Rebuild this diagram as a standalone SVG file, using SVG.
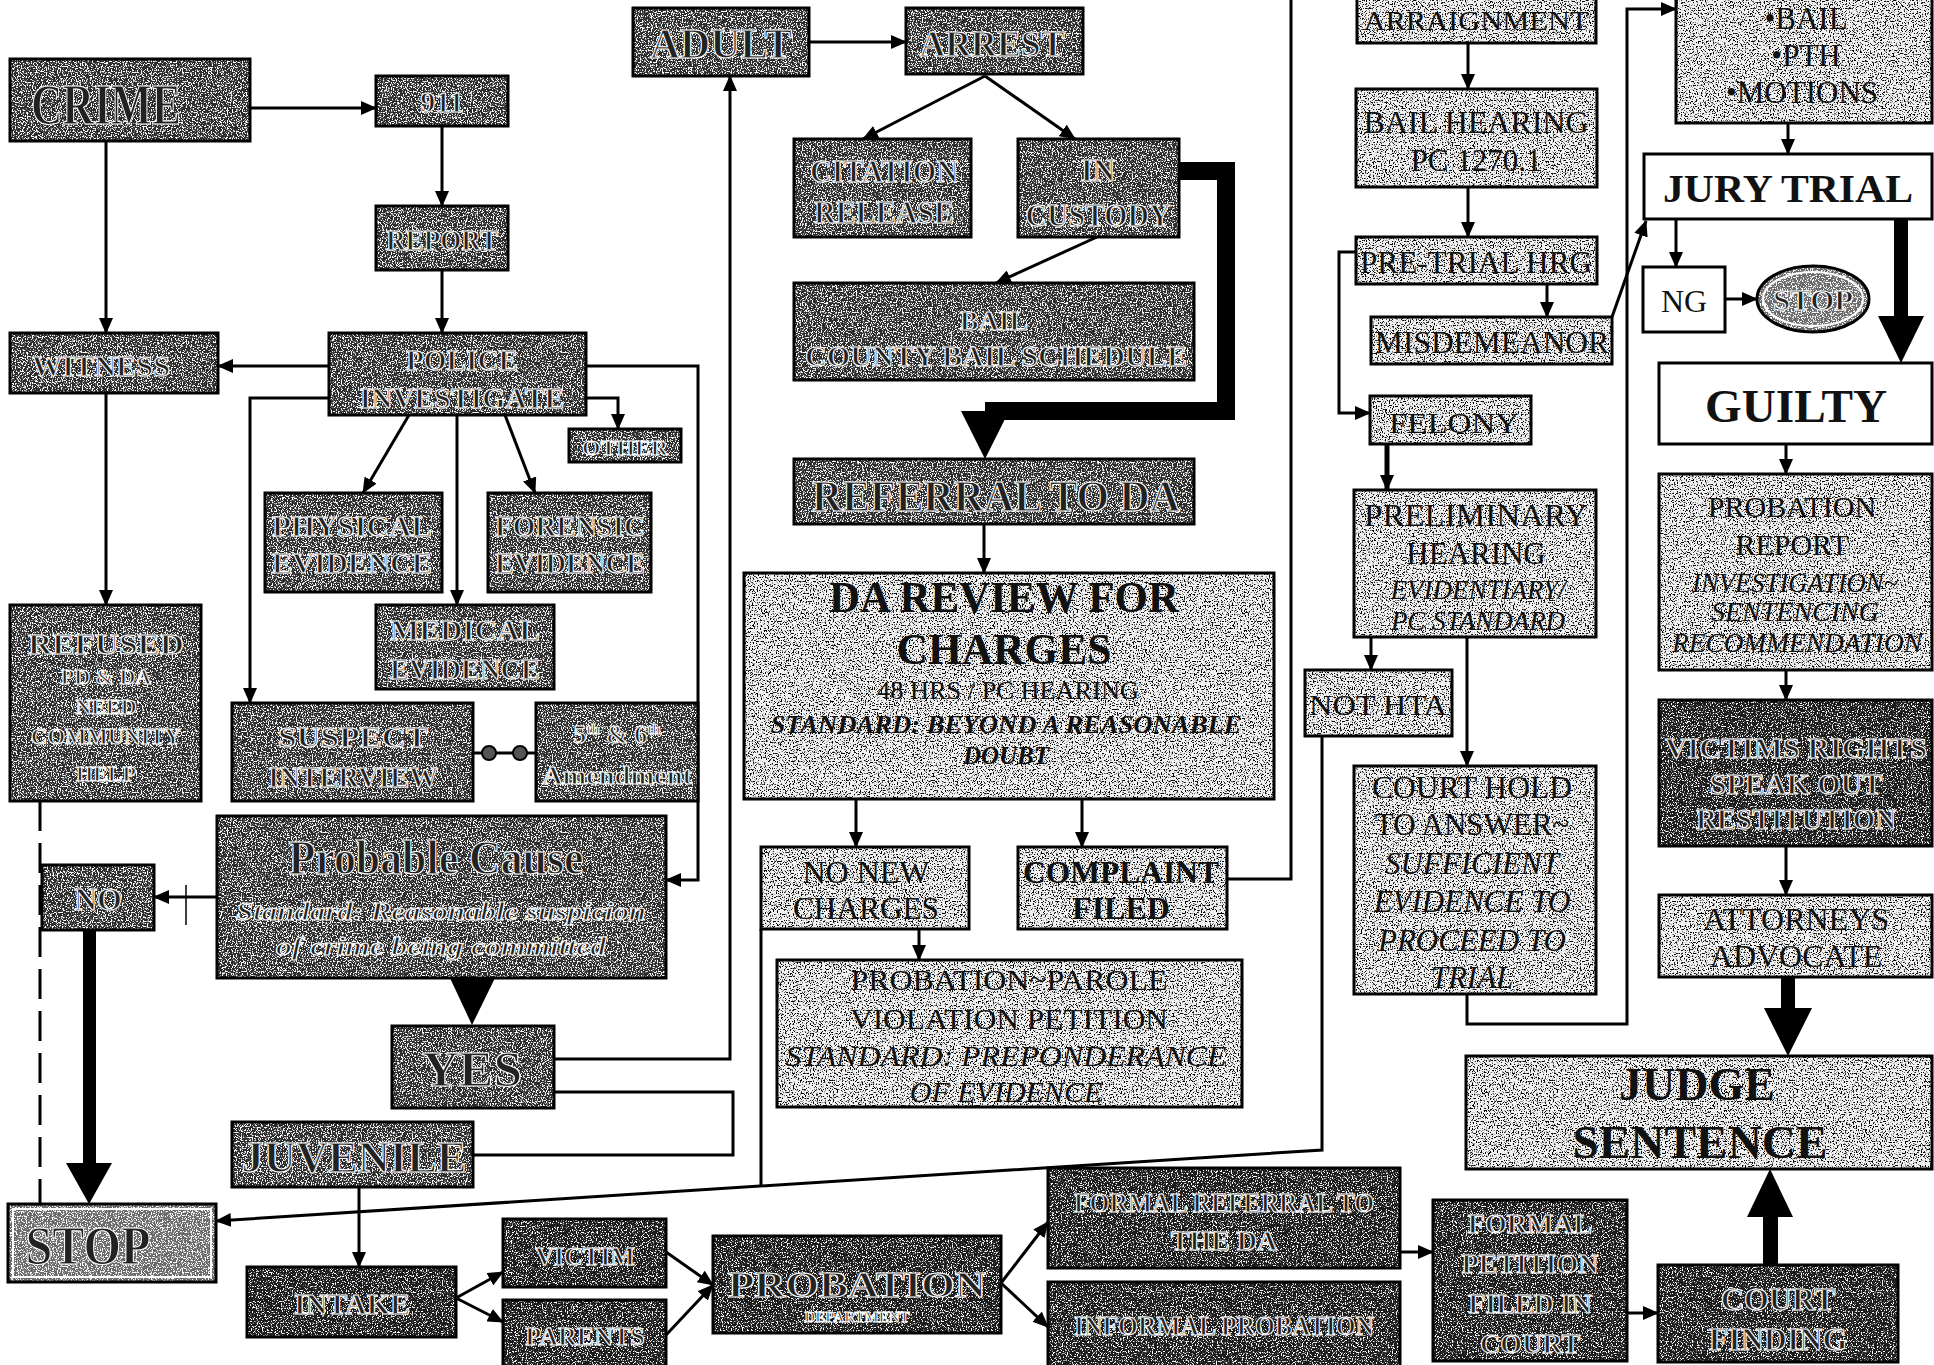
<svg xmlns="http://www.w3.org/2000/svg" width="1934" height="1365" viewBox="0 0 1934 1365">
<defs>
<filter id="nW" x="0" y="0" width="1" height="1" color-interpolation-filters="sRGB">
<feTurbulence type="fractalNoise" baseFrequency="0.8" numOctaves="2" seed="3" stitchTiles="stitch"/>
<feColorMatrix type="matrix" values="0 0 0 0 1  0 0 0 0 1  0 0 0 0 1  9 0 0 0 -4.6"/>
</filter>
<filter id="nW2" x="0" y="0" width="1" height="1" color-interpolation-filters="sRGB">
<feTurbulence type="fractalNoise" baseFrequency="0.8" numOctaves="2" seed="9" stitchTiles="stitch"/>
<feColorMatrix type="matrix" values="0 0 0 0 1  0 0 0 0 1  0 0 0 0 1  9 0 0 0 -4.9"/>
</filter>
<filter id="nK" x="0" y="0" width="1" height="1" color-interpolation-filters="sRGB">
<feTurbulence type="fractalNoise" baseFrequency="0.75" numOctaves="2" seed="5" stitchTiles="stitch"/>
<feColorMatrix type="matrix" values="0 0 0 0 0  0 0 0 0 0  0 0 0 0 0  8 0 0 0 -4.3"/>
</filter>
<pattern id="pDark" width="240" height="240" patternUnits="userSpaceOnUse">
<rect width="240" height="240" fill="#2c2c2c"/>
<rect width="240" height="240" fill="#fff" filter="url(#nW)"/>
</pattern>
<pattern id="pDarker" width="240" height="240" patternUnits="userSpaceOnUse">
<rect width="240" height="240" fill="#1c1c1c"/>
<rect width="240" height="240" fill="#fff" filter="url(#nW2)"/>
</pattern>
<pattern id="pMid" width="240" height="240" patternUnits="userSpaceOnUse">
<rect width="240" height="240" fill="#6a6a6a"/>
<rect width="240" height="240" fill="#fff" filter="url(#nW)"/>
</pattern>
<pattern id="pLight" width="240" height="240" patternUnits="userSpaceOnUse">
<rect width="240" height="240" fill="#f2f2f2"/>
<rect width="240" height="240" fill="#000" filter="url(#nK)"/>
</pattern>
<marker id="ah" markerUnits="userSpaceOnUse" markerWidth="16" markerHeight="14" refX="15" refY="7" orient="auto">
<path d="M0,0 L16,7 L0,14 z" fill="#000"/>
</marker>
<style>
.bx{stroke:#000;stroke-width:3}
.dk{fill:url(#pDark)}
.dk2{fill:url(#pDarker)}
.md{fill:url(#pMid)}
.lt{fill:url(#pLight)}
.wh{fill:#fff}
.t{font-family:"Liberation Serif","Times New Roman",serif;text-anchor:middle}
.d{fill:#222;stroke:#fff;stroke-width:1.1px;font-weight:bold}
.k{fill:#111}
.b{font-weight:bold}
.i{font-style:italic}
.c{fill:none;stroke:#000;stroke-width:3}
.a{marker-end:url(#ah)}
.th{fill:#000}
</style>
</defs>
<rect width="1934" height="1365" fill="#fff"/>

<g id="connectors">
<path class="c a" d="M250,108 H376"/>
<path class="c a" d="M442,126 V206"/>
<path class="c a" d="M442,270 V333"/>
<path class="c a" d="M106,141 V333"/>
<path class="c a" d="M329,366 H218"/>
<path class="c a" d="M106,393 V605"/>
<path class="c a" d="M329,398 H250 V703"/>
<path class="c a" d="M586,398 H618 V429"/>
<path class="c a" d="M586,366 H698 V880 H666"/>
<path class="c a" d="M409,415 L363,493"/>
<path class="c a" d="M457,415 V605"/>
<path class="c a" d="M505,415 L535,493"/>
<path class="c" d="M473,753 H536"/>
<circle cx="489" cy="753" r="7" fill="#555" stroke="#000" stroke-width="2"/>
<circle cx="520" cy="753" r="7" fill="#555" stroke="#000" stroke-width="2"/>
<path class="c a" d="M217,897 H154"/>
<path class="c" d="M186,885 V925" style="stroke-width:1.5"/>
<path class="c" d="M40,801 V1204" stroke-dasharray="30 12"/>
<rect class="th" x="83" y="930" width="13" height="235"/>
<polygon class="th" points="66,1163 112,1163 89,1204"/>
<polygon class="th" points="450,978 495,978 472,1025"/>
<path class="c a" d="M554,1059 H730 V76"/>
<path class="c" d="M554,1092 H733 V1155 H473"/>
<path class="c a" d="M359,1187 V1267"/>
<path class="c a" d="M1322,736 V1150 L216,1221"/>
<path class="c" d="M761,929 V1186"/>
<path class="c a" d="M809,42 H906"/>
<path class="c a" d="M985,76 L863,139"/>
<path class="c a" d="M985,76 L1075,139"/>
<path class="c a" d="M1097,237 L996,283"/>
<path class="c" d="M1179,171 H1226 V411 H985" style="stroke-width:18"/>
<polygon class="th" points="961,411 1009,411 985,459"/>
<path class="c a" d="M984,524 V573"/>
<path class="c a" d="M856,799 V847"/>
<path class="c a" d="M1082,799 V847"/>
<path class="c a" d="M919,929 V960"/>
<path class="c" d="M1227,879 H1291 V-5"/>
<path class="c a" d="M1468,43 V89"/>
<path class="c a" d="M1468,187 V237"/>
<path class="c a" d="M1547,284 V317"/>
<path class="c a" d="M1356,252 H1339 V413 H1370"/>
<path class="c a" d="M1612,317 L1646,221"/>
<path class="c a" d="M1387,444 V490" style="stroke-width:5"/>
<path class="c a" d="M1371,637 V670"/>
<path class="c a" d="M1467,637 V766"/>
<path class="c a" d="M1467,994 V1024 H1627 V9 H1676"/>
<path class="c a" d="M1788,123 V154"/>
<path class="c a" d="M1676,219 V267"/>
<path class="c a" d="M1725,299 H1757"/>
<rect class="th" x="1894" y="219" width="14" height="99"/>
<polygon class="th" points="1878,316 1924,316 1901,363"/>
<path class="c a" d="M1786,444 V474"/>
<path class="c a" d="M1786,670 V700"/>
<path class="c a" d="M1786,846 V895"/>
<rect class="th" x="1781" y="977" width="14" height="33"/>
<polygon class="th" points="1764,1008 1812,1008 1788,1056"/>
<rect class="th" x="1763" y="1213" width="15" height="52"/>
<polygon class="th" points="1747,1217 1793,1217 1770,1169"/>
<path class="c a" d="M456,1298 L503,1272"/>
<path class="c a" d="M456,1298 L503,1322"/>
<path class="c a" d="M666,1252 L713,1285"/>
<path class="c a" d="M666,1335 L713,1285"/>
<path class="c a" d="M1001,1283 L1048,1222"/>
<path class="c a" d="M1001,1283 L1048,1327"/>
<path class="c a" d="M1400,1252 H1433"/>
<path class="c a" d="M1627,1313 H1658"/>
</g>

<g id="crime"><rect class="bx dk" x="10" y="59" width="240" height="82"/>
<text class="t d" x="106" y="124" font-size="56" textLength="150" lengthAdjust="spacingAndGlyphs">CRIME</text></g>
<g id="n911"><rect class="bx dk" x="376" y="76" width="132" height="50"/>
<text class="t d" x="442" y="112" font-size="30">911</text></g>
<g id="report"><rect class="bx dk" x="376" y="206" width="132" height="64"/>
<text class="t d" x="442" y="250" font-size="30" textLength="112" lengthAdjust="spacingAndGlyphs">REPORT</text></g>
<g id="witness"><rect class="bx dk" x="10" y="333" width="208" height="60"/>
<text class="t d" x="101" y="376" font-size="30" textLength="138" lengthAdjust="spacingAndGlyphs">WITNESS</text></g>
<g id="police"><rect class="bx dk" x="329" y="333" width="257" height="82"/>
<text class="t d" x="462" y="370" font-size="30" textLength="112" lengthAdjust="spacingAndGlyphs">POLICE</text>
<text class="t d" x="462" y="408" font-size="30" textLength="205" lengthAdjust="spacingAndGlyphs">INVESTIGATE</text></g>
<g id="other"><rect class="bx dk" x="569" y="429" width="112" height="33"/>
<text class="t d" x="625" y="455" font-size="22" textLength="86" lengthAdjust="spacingAndGlyphs">OTHER</text></g>
<g id="physical"><rect class="bx dk" x="265" y="493" width="177" height="99"/>
<text class="t d" x="352" y="536" font-size="30" textLength="160" lengthAdjust="spacingAndGlyphs">PHYSICAL</text>
<text class="t d" x="352" y="573" font-size="30" textLength="160" lengthAdjust="spacingAndGlyphs">EVIDENCE</text></g>
<g id="forensic"><rect class="bx dk" x="488" y="493" width="163" height="99"/>
<text class="t d" x="570" y="536" font-size="30" textLength="150" lengthAdjust="spacingAndGlyphs">FORENSIC</text>
<text class="t d" x="570" y="573" font-size="30" textLength="150" lengthAdjust="spacingAndGlyphs">EVIDENCE</text></g>
<g id="medical"><rect class="bx dk" x="376" y="605" width="178" height="84"/>
<text class="t d" x="465" y="640" font-size="30" textLength="150" lengthAdjust="spacingAndGlyphs">MEDICAL</text>
<text class="t d" x="465" y="679" font-size="30" textLength="150" lengthAdjust="spacingAndGlyphs">EVIDENCE</text></g>
<g id="refused"><rect class="bx dk" x="10" y="605" width="191" height="196"/>
<text class="t d" x="106" y="654" font-size="30" textLength="156" lengthAdjust="spacingAndGlyphs">REFUSED</text>
<text class="t d" x="106" y="684" font-size="22">PD &amp; DA</text>
<text class="t d" x="106" y="714" font-size="22">NEED</text>
<text class="t d" x="106" y="744" font-size="24" textLength="150" lengthAdjust="spacingAndGlyphs">COMMUNITY</text>
<text class="t d" x="106" y="781" font-size="22">HELP</text></g>
<g id="suspect"><rect class="bx dk" x="232" y="703" width="241" height="98"/>
<text class="t d" x="353" y="747" font-size="30" textLength="150" lengthAdjust="spacingAndGlyphs">SUSPECT</text>
<text class="t d" x="353" y="787" font-size="30" textLength="170" lengthAdjust="spacingAndGlyphs">INTERVIEW</text></g>
<g id="amend"><rect class="bx dk" x="536" y="703" width="162" height="98"/>
<text class="t d" x="617" y="743" font-size="26">5<tspan font-size="15" dy="-9">th</tspan><tspan dy="9"> &amp; 6</tspan><tspan font-size="15" dy="-9">th</tspan></text>
<text class="t d" x="617" y="784" font-size="26" textLength="150" lengthAdjust="spacingAndGlyphs">Amendment</text></g>
<g id="probable"><rect class="bx dk" x="217" y="816" width="449" height="162"/>
<text class="t d" x="436" y="874" font-size="48" textLength="295" lengthAdjust="spacingAndGlyphs">Probable Cause</text>
<text class="t d i" x="441" y="920" font-size="26" textLength="410" lengthAdjust="spacingAndGlyphs">Standard: Reasonable suspicion</text>
<text class="t d i" x="441" y="955" font-size="26" textLength="330" lengthAdjust="spacingAndGlyphs">of crime being committed</text></g>
<g id="no"><rect class="bx dk" x="42" y="865" width="112" height="65"/>
<text class="t d" x="98" y="910" font-size="32">NO</text></g>
<g id="yes"><rect class="bx dk" x="392" y="1026" width="162" height="82"/>
<text class="t d" x="472" y="1086" font-size="50" textLength="100" lengthAdjust="spacingAndGlyphs">YES</text></g>
<g id="juvenile"><rect class="bx dk" x="232" y="1122" width="241" height="65"/>
<text class="t d" x="354" y="1172" font-size="44" textLength="225" lengthAdjust="spacingAndGlyphs">JUVENILE</text></g>
<g id="stop1"><rect class="bx md" x="8" y="1204" width="208" height="78"/>
<rect x="13" y="1209" width="198" height="68" fill="none" stroke="#fff" stroke-width="2"/>
<text class="t d" x="88" y="1264" font-size="54" textLength="125" lengthAdjust="spacingAndGlyphs">STOP</text></g>

<g id="adult"><rect class="bx dk" x="633" y="8" width="176" height="68"/>
<text class="t d" x="721" y="58" font-size="42" textLength="142" lengthAdjust="spacingAndGlyphs">ADULT</text></g>
<g id="arrest"><rect class="bx dk" x="906" y="8" width="177" height="66"/>
<text class="t d" x="992" y="56" font-size="36" textLength="145" lengthAdjust="spacingAndGlyphs">ARREST</text></g>
<g id="citation"><rect class="bx dk" x="794" y="139" width="177" height="98"/>
<text class="t d" x="884" y="182" font-size="31" textLength="148" lengthAdjust="spacingAndGlyphs">CITATION</text>
<text class="t d" x="884" y="223" font-size="31" textLength="140" lengthAdjust="spacingAndGlyphs">RELEASE</text></g>
<g id="custody"><rect class="bx dk" x="1018" y="139" width="161" height="98"/>
<text class="t d" x="1098" y="181" font-size="31">IN</text>
<text class="t d" x="1098" y="226" font-size="31" textLength="145" lengthAdjust="spacingAndGlyphs">CUSTODY</text></g>
<g id="bail"><rect class="bx dk" x="794" y="283" width="400" height="97"/>
<text class="t d" x="994" y="330" font-size="28">BAIL</text>
<text class="t d" x="996" y="366" font-size="30" textLength="382" lengthAdjust="spacingAndGlyphs">COUNTY BAIL SCHEDULE</text></g>
<g id="referral"><rect class="bx dk" x="794" y="459" width="400" height="65"/>
<text class="t d" x="996" y="511" font-size="44" textLength="368" lengthAdjust="spacingAndGlyphs">REFERRAL TO DA</text></g>
<g id="dareview"><rect class="bx lt" x="744" y="573" width="530" height="226"/>
<text class="t k b" x="1004" y="612" font-size="44" textLength="350" lengthAdjust="spacingAndGlyphs">DA REVIEW FOR</text>
<text class="t k b" x="1004" y="664" font-size="44" textLength="215" lengthAdjust="spacingAndGlyphs">CHARGES</text>
<text class="t k" x="1008" y="699" font-size="25" textLength="262" lengthAdjust="spacingAndGlyphs">48 HRS / PC HEARING</text>
<text class="t k b i" x="1006" y="733" font-size="25" textLength="471" lengthAdjust="spacingAndGlyphs">STANDARD: BEYOND A REASONABLE</text>
<text class="t k b i" x="1006" y="764" font-size="25">DOUBT</text></g>
<g id="nonew"><rect class="bx lt" x="761" y="847" width="208" height="82"/>
<text class="t k" x="866" y="883" font-size="32">NO NEW</text>
<text class="t k" x="866" y="919" font-size="32" textLength="146" lengthAdjust="spacingAndGlyphs">CHARGES</text></g>
<g id="complaint"><rect class="bx lt" x="1018" y="847" width="209" height="82"/>
<text class="t k b" x="1121" y="883" font-size="32" textLength="196" lengthAdjust="spacingAndGlyphs">COMPLAINT</text>
<text class="t k b" x="1121" y="919" font-size="32">FILED</text></g>
<g id="violation"><rect class="bx lt" x="777" y="960" width="465" height="147"/>
<text class="t k" x="1009" y="990" font-size="30" textLength="317" lengthAdjust="spacingAndGlyphs">PROBATION~PAROLE</text>
<text class="t k" x="1009" y="1029" font-size="30" textLength="318" lengthAdjust="spacingAndGlyphs">VIOLATION PETITION</text>
<text class="t k i" x="1006" y="1066" font-size="30" textLength="441" lengthAdjust="spacingAndGlyphs">STANDARD: PREPONDERANCE</text>
<text class="t k i" x="1006" y="1102" font-size="30">OF EVIDENCE</text></g>

<g id="arraignment"><rect class="bx lt" x="1357" y="-10" width="239" height="53"/>
<text class="t k" x="1476" y="30" font-size="28" textLength="225" lengthAdjust="spacingAndGlyphs">ARRAIGNMENT</text></g>
<g id="bailhearing"><rect class="bx lt" x="1356" y="89" width="241" height="98"/>
<text class="t k" x="1476" y="133" font-size="31" textLength="225" lengthAdjust="spacingAndGlyphs">BAIL HEARING</text>
<text class="t k" x="1476" y="171" font-size="31">PC 1270.1</text></g>
<g id="pretrial"><rect class="bx lt" x="1356" y="237" width="241" height="47"/>
<text class="t k" x="1476" y="273" font-size="31" textLength="232" lengthAdjust="spacingAndGlyphs">PRE-TRIAL HRG</text></g>
<g id="misdemeanor"><rect class="bx lt" x="1371" y="317" width="241" height="47"/>
<text class="t k" x="1492" y="353" font-size="31" textLength="234" lengthAdjust="spacingAndGlyphs">MISDEMEANOR</text></g>
<g id="felony"><rect class="bx lt" x="1370" y="396" width="161" height="48"/>
<text class="t k" x="1454" y="433" font-size="30" textLength="130" lengthAdjust="spacingAndGlyphs">FELONY</text></g>
<g id="prelim"><rect class="bx lt" x="1354" y="490" width="242" height="147"/>
<text class="t k" x="1476" y="526" font-size="31" textLength="224" lengthAdjust="spacingAndGlyphs">PRELIMINARY</text>
<text class="t k" x="1476" y="564" font-size="31">HEARING</text>
<text class="t k i" x="1478" y="599" font-size="27">EVIDENTIARY/</text>
<text class="t k i" x="1478" y="630" font-size="27">PC STANDARD</text></g>
<g id="nothta"><rect class="bx lt" x="1305" y="670" width="147" height="66"/>
<text class="t k" x="1378" y="715" font-size="30" textLength="138" lengthAdjust="spacingAndGlyphs">NOT HTA</text></g>
<g id="courthold"><rect class="bx lt" x="1354" y="766" width="242" height="228"/>
<text class="t k" x="1472" y="798" font-size="31" textLength="200" lengthAdjust="spacingAndGlyphs">COURT HOLD</text>
<text class="t k" x="1472" y="835" font-size="31">TO ANSWER~</text>
<text class="t k i" x="1472" y="874" font-size="31">SUFFICIENT</text>
<text class="t k i" x="1472" y="912" font-size="31">EVIDENCE TO</text>
<text class="t k i" x="1472" y="951" font-size="31">PROCEED TO</text>
<text class="t k i" x="1472" y="988" font-size="31">TRIAL</text></g>
<g id="motions"><rect class="bx lt" x="1676" y="-10" width="256" height="133"/>
<text class="t k" x="1806" y="29" font-size="31">•BAIL</text>
<text class="t k" x="1806" y="66" font-size="31">•PTH</text>
<text class="t k" x="1802" y="103" font-size="31">•MOTIONS</text></g>
<g id="jury"><rect class="bx wh" x="1644" y="154" width="288" height="65"/>
<text class="t k b" x="1788" y="202" font-size="41" textLength="250" lengthAdjust="spacingAndGlyphs">JURY TRIAL</text></g>
<g id="ng"><rect class="bx wh" x="1643" y="267" width="82" height="65"/>
<text class="t k" x="1684" y="312" font-size="32">NG</text></g>
<g id="stop2"><ellipse class="bx md" cx="1813" cy="299" rx="56" ry="33"/>
<ellipse cx="1813" cy="299" rx="50" ry="27" fill="none" stroke="#fff" stroke-width="2"/>
<text class="t d" x="1813" y="310" font-size="30" textLength="80" lengthAdjust="spacingAndGlyphs">STOP</text></g>
<g id="guilty"><rect class="bx wh" x="1659" y="363" width="273" height="81"/>
<text class="t k b" x="1796" y="422" font-size="46" textLength="182" lengthAdjust="spacingAndGlyphs">GUILTY</text></g>
<g id="probreport"><rect class="bx lt" x="1659" y="474" width="273" height="196"/>
<text class="t k" x="1792" y="517" font-size="30">PROBATION</text>
<text class="t k" x="1792" y="555" font-size="30">REPORT</text>
<text class="t k i" x="1795" y="592" font-size="28" textLength="206" lengthAdjust="spacingAndGlyphs">INVESTIGATION~</text>
<text class="t k i" x="1795" y="621" font-size="28">SENTENCING</text>
<text class="t k i" x="1797" y="652" font-size="28" textLength="250" lengthAdjust="spacingAndGlyphs">RECOMMENDATION</text></g>
<g id="victims"><rect class="bx dk2" x="1659" y="700" width="273" height="146"/>
<text class="t d" x="1796" y="758" font-size="30" textLength="262" lengthAdjust="spacingAndGlyphs">VICTIMS RIGHTS</text>
<text class="t d" x="1796" y="794" font-size="30">SPEAK OUT</text>
<text class="t d" x="1796" y="829" font-size="30" textLength="200" lengthAdjust="spacingAndGlyphs">RESTITUTION</text></g>
<g id="attorneys"><rect class="bx lt" x="1659" y="895" width="273" height="82"/>
<text class="t k" x="1796" y="930" font-size="32">ATTORNEYS</text>
<text class="t k" x="1796" y="967" font-size="32">ADVOCATE</text></g>
<g id="judge"><rect class="bx lt" x="1466" y="1056" width="466" height="113"/>
<text class="t k b" x="1697" y="1100" font-size="46">JUDGE</text>
<text class="t k b" x="1700" y="1158" font-size="46" textLength="255" lengthAdjust="spacingAndGlyphs">SENTENCE</text></g>

<g id="intake"><rect class="bx dk2" x="247" y="1267" width="209" height="70"/>
<text class="t d" x="352" y="1314" font-size="30">INTAKE</text></g>
<g id="victim"><rect class="bx dk2" x="503" y="1219" width="163" height="68"/>
<text class="t d" x="585" y="1265" font-size="26">VICTIM</text></g>
<g id="parents"><rect class="bx dk2" x="503" y="1300" width="163" height="72"/>
<text class="t d" x="585" y="1345" font-size="26">PARENTS</text></g>
<g id="probation"><rect class="bx dk2" x="713" y="1236" width="288" height="97"/>
<text class="t d" x="857" y="1297" font-size="36" textLength="258" lengthAdjust="spacingAndGlyphs">PROBATION</text>
<text class="t d" x="857" y="1322" font-size="15">DEPARTMENT</text></g>
<g id="formalref"><rect class="bx dk2" x="1048" y="1168" width="352" height="100"/>
<text class="t d" x="1224" y="1212" font-size="28" textLength="300" lengthAdjust="spacingAndGlyphs">FORMAL REFERRAL TO</text>
<text class="t d" x="1224" y="1250" font-size="28">THE DA</text></g>
<g id="informal"><rect class="bx dk2" x="1048" y="1282" width="352" height="90"/>
<text class="t d" x="1224" y="1335" font-size="28" textLength="300" lengthAdjust="spacingAndGlyphs">INFORMAL PROBATION</text></g>
<g id="petition"><rect class="bx dk2" x="1433" y="1200" width="194" height="161"/>
<text class="t d" x="1530" y="1233" font-size="28">FORMAL</text>
<text class="t d" x="1530" y="1273" font-size="28">PETITION</text>
<text class="t d" x="1530" y="1313" font-size="28">FILED IN</text>
<text class="t d" x="1530" y="1353" font-size="28">COURT</text></g>
<g id="finding"><rect class="bx dk2" x="1658" y="1265" width="240" height="97"/>
<text class="t d" x="1778" y="1310" font-size="32">COURT</text>
<text class="t d" x="1778" y="1350" font-size="32">FINDING</text></g>
</svg>
